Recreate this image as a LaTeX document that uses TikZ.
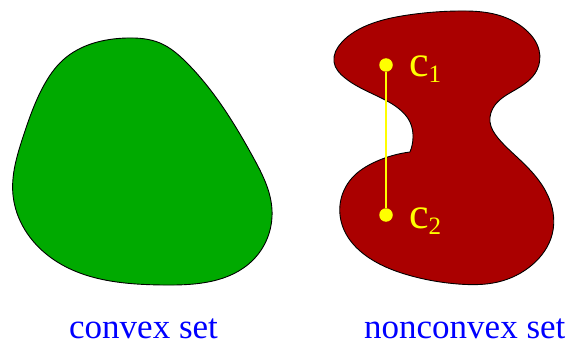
\documentclass[tikz,border=0pt]{standalone}
\usepackage{fontspec}
\setmainfont{Liberation Serif}
\usetikzlibrary{positioning,hobby}
\definecolor{setgreen}{RGB}{0,170,0}
\definecolor{setred}{RGB}{170,0,0}
\definecolor{ptyellow}{RGB}{255,255,0}
\newcommand{\ptsub}[1]{\raisebox{-6pt}{\fontsize{25}{30}\selectfont #1}}
\begin{document}
\begin{tikzpicture}[
  x=1pt, y=-1pt,
  region/.style={draw=black, line width=0.9pt},
  point/.style={circle, fill=ptyellow, inner sep=0pt, minimum size=13.5pt},
  segment/.style={draw=ptyellow, line width=2.6pt},
  ptlabel/.style={text=ptyellow, inner sep=0pt, anchor=base west, font=\fontsize{44}{50}\selectfont},
  setlabel/.style={text=blue, inner sep=0pt, anchor=base west, font=\fontsize{35}{42}\selectfont},
]
\useasboundingbox (0,0) rectangle (571,345);
% convex region
\draw[region, fill=setgreen, use Hobby shortcut, closed=true]
  (127,38) .. (160,43) .. (187,63) .. (253,157) .. (272,210) .. (253,260)
  .. (163,285) .. (50,257) .. (13,195) .. (23,137) .. (43,87) .. (63,60);
% nonconvex region
\draw[region, fill=setred, use Hobby shortcut]
  (410,152) .. (375,162) .. (352,178) .. (340,205) .. (345,232) .. (365,255)
  .. (408,275) .. (458,284) .. (498,282) .. (532,265) .. (552,235) .. (553,212)
  .. (542,185) .. (518,158) .. (498,138) .. (490,122) .. (495,105) .. (515,90)
  .. (537,70) .. (539,50) .. (526,30) .. (498,15) .. (458,11) .. (408,15)
  .. (368,25) .. (342,42) .. (334,62) .. (345,78) .. (375,95) .. (398,108)
  .. (410,122) .. (413,138) .. (410,152) -- cycle;
% points inside
\node[point] (c1) at (386,65) {};
\node[point] (c2) at (386,215) {};
\draw[segment] (c1) -- (c2);
\node[ptlabel] (l1) at (409,77) {c\ptsub{1}};
\node[ptlabel] (l2) at (409,228) {c\ptsub{2}};
% captions
\node[setlabel] (convex) at (69,338) {convex set};
\node[setlabel] (nonconvex) at (364,338) {nonconvex set};
\end{tikzpicture}
\end{document}
